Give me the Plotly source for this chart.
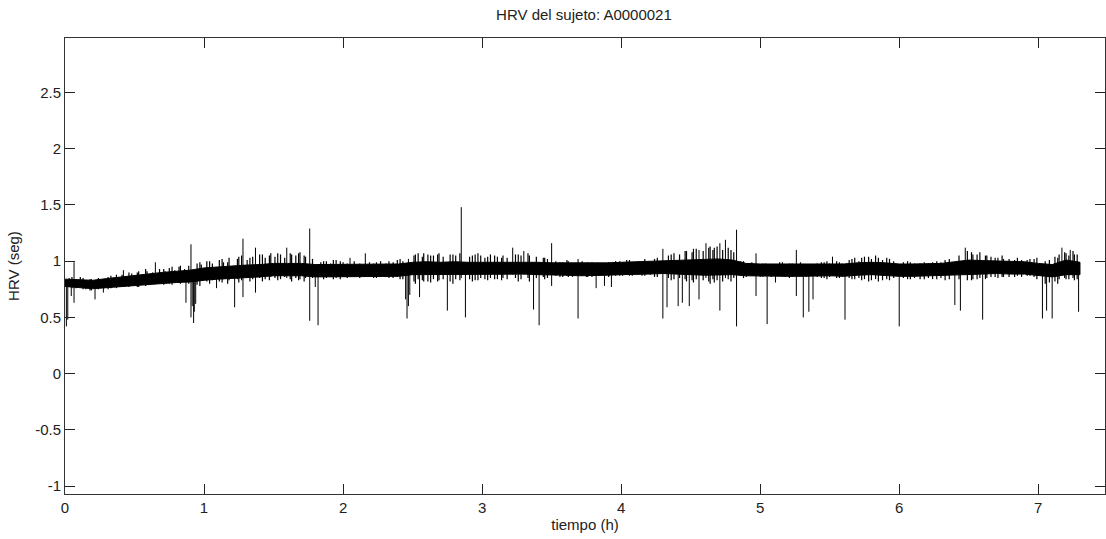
import plotly.graph_objects as go

# ---- data ----
# core of the dense HRV band (hours, seconds)
env_t = [0.0, 0.1, 0.2, 0.3, 0.4, 0.5, 0.6, 0.7, 0.8, 0.9,
         1.0, 1.1, 1.2, 1.3, 1.4, 1.5, 1.6, 1.7, 1.8, 1.9,
         2.0, 2.1, 2.2, 2.3, 2.4, 2.5, 2.6, 2.7, 2.8, 2.9,
         3.0, 3.1, 3.2, 3.3, 3.4, 3.5, 3.6, 3.7, 3.8, 3.9,
         4.0, 4.1, 4.2, 4.3, 4.4, 4.5, 4.6, 4.7, 4.8, 4.9,
         5.0, 5.1, 5.2, 5.3, 5.4, 5.5, 5.6, 5.7, 5.8, 5.9,
         6.0, 6.1, 6.2, 6.3, 6.4, 6.5, 6.6, 6.7, 6.8, 6.9,
         7.0, 7.1, 7.2, 7.3]
env_hi = [0.84, 0.835, 0.83, 0.845, 0.86, 0.875, 0.89, 0.90, 0.91, 0.92,
          0.94, 0.95, 0.96, 0.965, 0.97, 0.98, 0.98, 0.98, 0.97, 0.97,
          0.97, 0.97, 0.97, 0.975, 0.975, 0.99, 0.995, 0.99, 0.995, 0.99,
          0.99, 0.99, 0.995, 0.995, 0.99, 0.985, 0.985, 0.98, 0.98, 0.985,
          0.99, 0.995, 0.995, 1.00, 1.005, 1.01, 1.015, 1.02, 1.01, 0.98,
          0.975, 0.975, 0.975, 0.975, 0.975, 0.98, 0.975, 0.985, 0.99, 0.985,
          0.975, 0.975, 0.975, 0.98, 0.995, 1.01, 1.005, 1.00, 0.995, 0.995,
          0.98, 0.97, 1.01, 0.99]
env_lo = [0.775, 0.765, 0.755, 0.76, 0.77, 0.78, 0.79, 0.80, 0.81, 0.815,
          0.83, 0.84, 0.85, 0.855, 0.86, 0.87, 0.87, 0.87, 0.86, 0.86,
          0.86, 0.86, 0.86, 0.865, 0.865, 0.88, 0.885, 0.88, 0.885, 0.88,
          0.88, 0.88, 0.885, 0.885, 0.88, 0.875, 0.875, 0.87, 0.87, 0.875,
          0.88, 0.885, 0.885, 0.89, 0.885, 0.88, 0.875, 0.875, 0.88, 0.87,
          0.865, 0.865, 0.865, 0.865, 0.865, 0.87, 0.865, 0.875, 0.88, 0.875,
          0.865, 0.865, 0.865, 0.87, 0.875, 0.88, 0.885, 0.89, 0.885, 0.885,
          0.87, 0.86, 0.88, 0.88]

# isolated large excursions (time, low end, high end)
spike_t = [0.01, 0.02, 0.045, 0.065, 0.216, 0.276, 0.42, 0.65, 0.87, 0.906,
           0.915, 0.925, 0.93, 0.94, 1.09, 1.22, 1.28, 1.37, 1.595, 1.76,
           1.80, 1.82, 2.05, 2.16, 2.45, 2.46, 2.47, 2.48, 2.55, 2.75,
           2.85, 2.88, 3.22, 3.30, 3.37, 3.41, 3.50, 3.69, 3.82, 3.88,
           3.93, 4.30, 4.33, 4.41, 4.44, 4.49, 4.56, 4.61, 4.71, 4.75,
           4.83, 4.97, 5.05, 5.11, 5.26, 5.31, 5.35, 5.38, 5.52, 5.61,
           6.00, 6.40, 6.44, 6.475, 6.60, 7.03, 7.06, 7.10, 7.17, 7.23,
           7.29]
spike_lo = [0.42, 0.48, 0.69, 0.63, 0.66, 0.72, 0.78, 0.80, 0.63, 0.50,
            0.60, 0.45, 0.55, 0.62, 0.76, 0.59, 0.68, 0.72, 0.85, 0.47,
            0.77, 0.43, 0.88, 0.88, 0.66, 0.49, 0.60, 0.70, 0.68, 0.56,
            0.85, 0.50, 0.88, 0.88, 0.57, 0.43, 0.78, 0.49, 0.76, 0.78,
            0.77, 0.49, 0.59, 0.60, 0.63, 0.60, 0.66, 0.85, 0.56, 0.85,
            0.42, 0.69, 0.44, 0.81, 0.69, 0.50, 0.55, 0.66, 0.88, 0.48,
            0.42, 0.61, 0.56, 0.88, 0.48, 0.49, 0.56, 0.49, 0.88, 0.88,
            0.55]
spike_hi = [0.82, 0.82, 0.80, 0.99, 0.80, 0.80, 0.92, 0.99, 0.86, 1.15,
            0.85, 0.85, 0.85, 0.85, 0.88, 0.90, 1.20, 1.12, 1.12, 1.29,
            0.90, 0.90, 1.03, 1.07, 0.90, 0.90, 1.02, 0.90, 0.95, 0.95,
            1.48, 0.95, 1.12, 1.09, 0.93, 0.93, 1.16, 1.02, 0.92, 0.92,
            0.92, 1.11, 0.93, 0.93, 0.93, 0.93, 1.10, 1.16, 1.16, 1.19,
            1.28, 1.07, 0.93, 0.93, 1.10, 0.93, 0.93, 0.93, 1.04, 0.93,
            0.93, 0.93, 0.93, 1.12, 0.93, 0.93, 0.93, 0.93, 1.12, 1.10,
            0.93]

# small ripples that roughen the band edges (time, low end, high end)
ripple_t = [0.05, 0.13, 0.18, 0.31, 0.37, 0.46, 0.53, 0.58, 0.71, 0.77,
            0.83, 0.97, 1.04, 1.13, 1.17, 1.25, 1.33, 1.42, 1.47, 1.53,
            1.63, 1.68, 1.72, 1.86, 1.93, 1.98, 2.24, 2.33, 2.41, 2.52,
            2.58, 2.63, 2.68, 2.79, 2.93, 2.97, 3.04, 3.09, 3.14, 3.26,
            3.34, 3.45, 3.56, 3.62, 3.76, 3.99, 4.06, 4.15, 4.24, 4.36,
            4.47, 4.52, 4.64, 4.67, 4.79, 4.88, 5.02, 5.16, 5.21, 5.44,
            5.48, 5.57, 5.66, 5.73, 5.78, 5.85, 5.93, 6.08, 6.15, 6.24,
            6.33, 6.52, 6.56, 6.63, 6.69, 6.75, 6.83, 6.92, 6.97, 7.14,
            7.20, 7.26]
ripple_lo = [0.76, 0.75, 0.74, 0.75, 0.76, 0.77, 0.77, 0.78, 0.79, 0.79,
             0.80, 0.78, 0.80, 0.81, 0.80, 0.81, 0.82, 0.82, 0.83, 0.83,
             0.82, 0.83, 0.82, 0.84, 0.84, 0.84, 0.85, 0.85, 0.84, 0.80,
             0.82, 0.81, 0.82, 0.80, 0.82, 0.83, 0.83, 0.84, 0.83, 0.82,
             0.82, 0.84, 0.86, 0.86, 0.86, 0.87, 0.87, 0.87, 0.86, 0.83,
             0.82, 0.81, 0.80, 0.81, 0.82, 0.85, 0.86, 0.86, 0.85, 0.85,
             0.84, 0.85, 0.84, 0.83, 0.82, 0.82, 0.83, 0.84, 0.84, 0.84,
             0.83, 0.83, 0.84, 0.85, 0.86, 0.86, 0.86, 0.87, 0.86, 0.80,
             0.84, 0.83]
ripple_hi = [0.86, 0.85, 0.84, 0.86, 0.88, 0.90, 0.91, 0.93, 0.93, 0.95,
             0.96, 0.99, 1.00, 1.02, 0.99, 1.04, 1.03, 1.06, 1.05, 1.07,
             1.06, 1.07, 1.05, 1.00, 1.01, 1.00, 0.99, 1.00, 1.02, 1.06,
             1.07, 1.05, 1.06, 1.06, 1.05, 1.07, 1.04, 1.05, 1.03, 1.06,
             1.05, 1.03, 0.99, 1.00, 0.99, 1.00, 1.01, 1.00, 1.02, 1.06,
             1.09, 1.11, 1.13, 1.12, 1.10, 1.00, 0.98, 0.99, 0.98, 0.99,
             1.00, 0.99, 1.02, 1.03, 1.04, 1.03, 1.02, 0.99, 0.98, 0.99,
             1.01, 1.08, 1.06, 1.05, 1.03, 1.02, 1.01, 1.01, 1.02, 1.03,
             1.07, 1.06]

# finer ripples between the ones above (time, low end, high end)
fine_t = [0.03, 0.08, 0.11, 0.15, 0.19, 0.24, 0.28, 0.33, 0.36, 0.41,
          0.44, 0.48, 0.52, 0.56, 0.59, 0.63, 0.68, 0.72, 0.75, 0.79,
          0.82, 0.86, 0.89, 0.95, 0.98, 1.02, 1.06, 1.11, 1.14, 1.18,
          1.24, 1.27, 1.31, 1.35, 1.40, 1.44, 1.48, 1.51, 1.55, 1.58,
          1.62, 1.66, 1.69, 1.73, 1.78, 1.84, 1.88, 1.91, 1.95, 2.00,
          2.03, 2.08, 2.12, 2.19, 2.22, 2.27, 2.31, 2.36, 2.39, 2.43,
          2.51, 2.54, 2.57, 2.61, 2.65, 2.69, 2.72, 2.77, 2.81, 2.84,
          2.91, 2.95, 2.99, 3.02, 3.06, 3.11, 3.15, 3.18, 3.24, 3.28,
          3.33, 3.39, 3.44, 3.47, 3.53, 3.58, 3.61, 3.65, 3.72, 3.75,
          3.79, 3.85, 3.91, 3.96, 4.01, 4.04, 4.08, 4.12, 4.17, 4.21,
          4.26, 4.34, 4.38, 4.42, 4.46, 4.51, 4.54, 4.59, 4.63, 4.66,
          4.69, 4.73, 4.77, 4.81, 4.86, 4.90, 4.94, 5.00, 5.04, 5.08,
          5.14, 5.18, 5.23, 5.29, 5.33, 5.41, 5.46, 5.50, 5.55, 5.59,
          5.64, 5.68, 5.71, 5.75, 5.80, 5.83, 5.88, 5.91, 5.96, 6.03,
          6.06, 6.11, 6.18, 6.21, 6.27, 6.30, 6.36, 6.43, 6.49, 6.53,
          6.58, 6.62, 6.66, 6.71, 6.74, 6.79, 6.85, 6.88, 6.94, 6.99,
          7.05, 7.08, 7.12, 7.15, 7.19, 7.22, 7.25, 7.28]
fine_lo = [0.77, 0.76, 0.77, 0.75, 0.74, 0.75, 0.76, 0.76, 0.77, 0.77,
           0.78, 0.78, 0.77, 0.79, 0.79, 0.80, 0.80, 0.81, 0.80, 0.82,
           0.81, 0.82, 0.80, 0.79, 0.83, 0.82, 0.83, 0.82, 0.84, 0.83,
           0.84, 0.83, 0.85, 0.84, 0.85, 0.84, 0.86, 0.85, 0.84, 0.86,
           0.84, 0.85, 0.84, 0.85, 0.85, 0.86, 0.85, 0.86, 0.85, 0.86,
           0.85, 0.86, 0.85, 0.86, 0.85, 0.86, 0.86, 0.85, 0.86, 0.84,
           0.82, 0.84, 0.83, 0.82, 0.84, 0.83, 0.84, 0.82, 0.84, 0.83,
           0.84, 0.83, 0.85, 0.84, 0.85, 0.84, 0.85, 0.84, 0.85, 0.84,
           0.85, 0.85, 0.86, 0.85, 0.87, 0.86, 0.87, 0.86, 0.87, 0.86,
           0.86, 0.87, 0.86, 0.87, 0.87, 0.88, 0.87, 0.88, 0.87, 0.88,
           0.86, 0.85, 0.84, 0.85, 0.84, 0.83, 0.84, 0.83, 0.82, 0.84,
           0.83, 0.82, 0.84, 0.85, 0.87, 0.86, 0.87, 0.86, 0.87, 0.86,
           0.87, 0.86, 0.86, 0.87, 0.86, 0.86, 0.85, 0.86, 0.85, 0.86,
           0.85, 0.84, 0.85, 0.84, 0.83, 0.84, 0.83, 0.84, 0.85, 0.85,
           0.84, 0.85, 0.84, 0.85, 0.84, 0.85, 0.84, 0.84, 0.83, 0.84,
           0.85, 0.84, 0.86, 0.85, 0.86, 0.86, 0.87, 0.86, 0.87, 0.84,
           0.80, 0.81, 0.82, 0.84, 0.85, 0.84, 0.85, 0.84]
fine_hi = [0.85, 0.84, 0.86, 0.83, 0.84, 0.85, 0.84, 0.87, 0.85, 0.88,
           0.86, 0.89, 0.90, 0.88, 0.91, 0.90, 0.93, 0.91, 0.94, 0.92,
           0.95, 0.93, 0.96, 0.98, 0.97, 1.00, 0.98, 1.01, 0.99, 1.03,
           1.02, 1.05, 1.01, 1.04, 1.06, 1.03, 1.07, 1.04, 1.06, 1.03,
           1.07, 1.05, 1.08, 1.04, 1.02, 0.99, 1.00, 0.98, 1.01, 0.99,
           0.98, 1.00, 0.98, 0.99, 0.98, 1.00, 0.98, 0.99, 1.01, 1.00,
           1.05, 1.07, 1.04, 1.06, 1.05, 1.07, 1.04, 1.06, 1.05, 1.07,
           1.04, 1.06, 1.05, 1.03, 1.06, 1.04, 1.05, 1.03, 1.06, 1.05,
           1.07, 1.04, 1.03, 1.02, 1.00, 0.99, 1.01, 0.98, 1.00, 0.98,
           0.99, 0.98, 0.99, 1.00, 0.99, 1.01, 0.99, 1.00, 1.02, 0.99,
           1.03, 1.05, 1.07, 1.06, 1.09, 1.08, 1.11, 1.09, 1.12, 1.10,
           1.13, 1.10, 1.12, 1.08, 1.00, 0.98, 0.99, 0.97, 0.98, 0.97,
           0.99, 0.97, 0.98, 0.99, 0.97, 0.98, 0.99, 0.98, 1.00, 0.98,
           1.01, 1.03, 1.00, 1.04, 1.02, 1.05, 1.01, 1.03, 1.00, 0.99,
           1.00, 0.98, 0.99, 0.98, 1.00, 0.99, 1.02, 1.05, 1.09, 1.06,
           1.08, 1.05, 1.04, 1.03, 1.05, 1.02, 1.03, 1.01, 1.02, 1.03,
           1.00, 1.01, 1.04, 1.06, 1.08, 1.05, 1.09, 1.06]

x_ticks = [0, 1, 2, 3, 4, 5, 6, 7]
y_ticks = [-1, -0.5, 0, 0.5, 1, 1.5, 2, 2.5]
y_tick_text = ["-1", "-0.5", "0", "0.5", "1", "1.5", "2", "2.5"]

title_text = "HRV del sujeto: A0000021"
x_title = "tiempo (h)"
y_title = "HRV (seg)"

# ---- figure ----
FONT = "Liberation Sans, Arial, Helvetica, sans-serif"
fig = go.Figure()

# dense band core as a filled envelope
fig.add_trace(go.Scatter(
    x=env_t + env_t[::-1],
    y=env_hi + env_lo[::-1],
    fill="toself", fillcolor="black",
    mode="lines", line=dict(color="black", width=1),
    hoverinfo="skip", showlegend=False))


def segments(ts, los, his):
    xs, ys = [], []
    for t, lo, hi in zip(ts, los, his):
        xs += [t, t, None]
        ys += [lo, hi, None]
    return xs, ys


fx, fy = segments(fine_t, fine_lo, fine_hi)
fig.add_trace(go.Scatter(x=fx, y=fy, mode="lines",
                         line=dict(color="black", width=1.2),
                         hoverinfo="skip", showlegend=False))

rx, ry = segments(ripple_t, ripple_lo, ripple_hi)
fig.add_trace(go.Scatter(x=rx, y=ry, mode="lines",
                         line=dict(color="black", width=1.2),
                         hoverinfo="skip", showlegend=False))

sx, sy = segments(spike_t, spike_lo, spike_hi)
fig.add_trace(go.Scatter(x=sx, y=sy, mode="lines",
                         line=dict(color="black", width=1),
                         hoverinfo="skip", showlegend=False))

axis_common = dict(
    showline=True, linecolor="#333333", linewidth=1, mirror="ticks",
    ticks="inside", ticklen=10, tickcolor="#222222", tickwidth=1,
    showgrid=False, zeroline=False,
    tickfont=dict(family=FONT, size=15, color="#222222"),
)

fig.update_layout(
    width=1106, height=539,
    margin=dict(l=65, r=1, t=38, b=45),
    paper_bgcolor="white", plot_bgcolor="white",
    title=dict(text=title_text, x=0.528, xanchor="center",
               y=0.973, yanchor="middle",
               font=dict(family=FONT, size=15, color="#222222")),
    xaxis=dict(range=[0, 7.48], tickmode="array", tickvals=x_ticks,
               title=dict(text=x_title, standoff=4,
                          font=dict(family=FONT, size=15, color="#222222")),
               **axis_common),
    yaxis=dict(range=[-1.071, 2.985], tickmode="array", tickvals=y_ticks,
               ticktext=y_tick_text,
               title=dict(text=y_title, standoff=11,
                          font=dict(family=FONT, size=15, color="#222222")),
               **axis_common),
    showlegend=False,
)

fig.write_html("out.html")
